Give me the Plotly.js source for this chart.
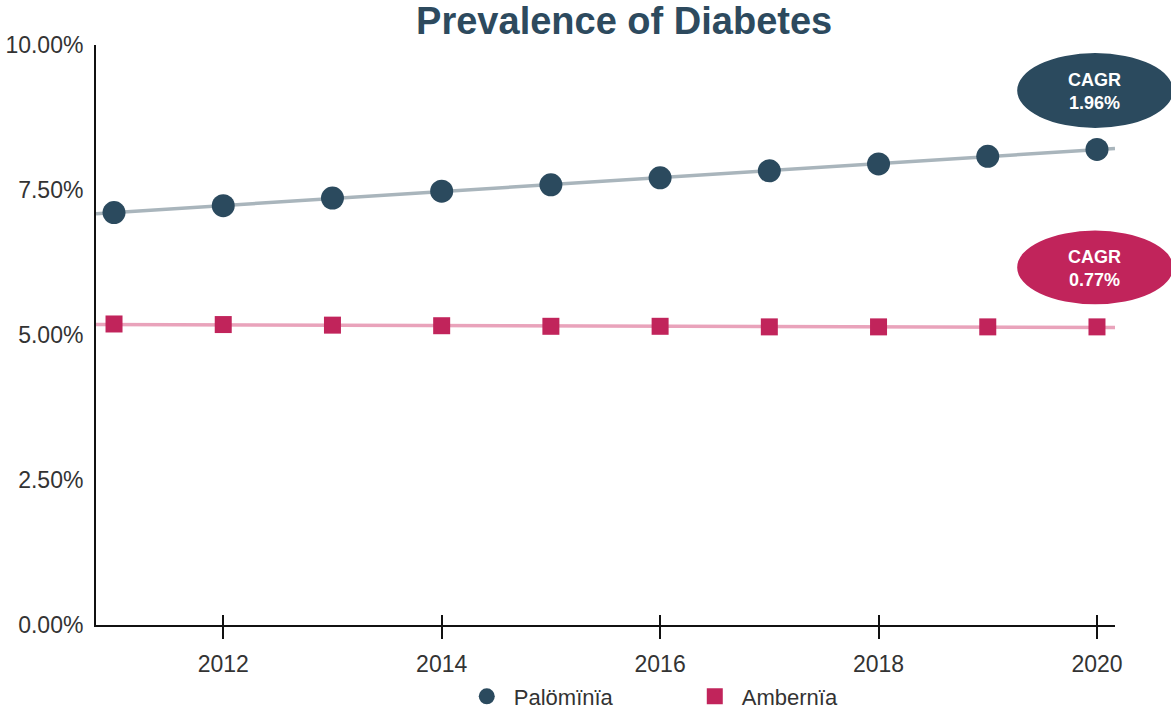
<!DOCTYPE html>
<html>
<head>
<meta charset="utf-8">
<script src="https://cdn.plot.ly/plotly-3.0.1.min.js"></script>
<style>
  html, body { margin: 0; padding: 0; background: #ffffff; }
  #chart { width: 1171px; height: 710px; }
</style>
</head>
<body>
<div id="chart"></div>
<script>
// Diabetes prevalence by year, two regions
const years = [2011, 2012, 2013, 2014, 2015, 2016, 2017, 2018, 2019, 2020];
const palominia = [0.0711, 0.0723, 0.0736, 0.0748, 0.0759, 0.0771, 0.0783, 0.0795, 0.0808, 0.0820];
const ambernia  = [0.0519, 0.0518, 0.0517, 0.0516, 0.0515, 0.0515, 0.0514, 0.0514, 0.0514, 0.0514];
const seriesNames = ['Palömïnïa', 'Ambernïa'];
const cagrLabels = ['1.96%', '0.77%'];
const xTicks = [2012, 2014, 2016, 2018, 2020];
const yTicks = [0, 0.025, 0.05, 0.075, 0.10];

const navy = '#2b4a5e';
const crimson = '#c1245b';
const FONT = '"Liberation Sans", Arial, Helvetica, sans-serif';
const xRange = [2010.835, 2020.165];

// least-squares trend line across the full axis range
function trend(xs, ys, range) {
  const n = xs.length;
  const mx = xs.reduce((a, b) => a + b, 0) / n;
  const my = ys.reduce((a, b) => a + b, 0) / n;
  let sxy = 0, sxx = 0;
  for (let i = 0; i < n; i++) { sxy += (xs[i] - mx) * (ys[i] - my); sxx += (xs[i] - mx) ** 2; }
  const b = sxy / sxx, a = my - b * mx;
  return { x: range.slice(), y: range.map(v => a + b * v) };
}

const tP = trend(years, palominia, xRange);
const tA = trend(years, ambernia, xRange);

const traces = [
  { x: tP.x, y: tP.y, mode: 'lines', line: { color: '#a9b5bc', width: 3.5 }, showlegend: false, hoverinfo: 'skip' },
  { x: tA.x, y: tA.y, mode: 'lines', line: { color: '#e9a3bb', width: 3.5 }, showlegend: false, hoverinfo: 'skip' },
  { x: years, y: palominia, name: seriesNames[0], mode: 'markers',
    marker: { symbol: 'circle', size: 23, color: navy } },
  { x: years, y: ambernia, name: seriesNames[1], mode: 'markers',
    marker: { symbol: 'square', size: 17, color: crimson } },
  // invisible trace carrying the inward half of the x ticks
  { x: years, y: palominia, xaxis: 'x2', mode: 'markers', marker: { opacity: 0 }, showlegend: false, hoverinfo: 'skip' }
];

const shapes = [
  { type: 'circle', xref: 'paper', yref: 'paper', x0: 0.904, x1: 1.057, y0: 0.857, y1: 0.986,
    fillcolor: navy, line: { width: 0 }, layer: 'below' },
  { type: 'circle', xref: 'paper', yref: 'paper', x0: 0.904, x1: 1.057, y0: 0.553, y1: 0.680,
    fillcolor: crimson, line: { width: 0 }, layer: 'below' }
];

const annotations = [
  { xref: 'paper', yref: 'paper', x: 0.980, y: 0.920, xanchor: 'center', yanchor: 'middle', showarrow: false,
    text: '<b>CAGR</b><br><b>' + cagrLabels[0] + '</b>',
    font: { family: FONT, size: 18, color: '#ffffff' }, align: 'center' },
  { xref: 'paper', yref: 'paper', x: 0.980, y: 0.614, xanchor: 'center', yanchor: 'middle', showarrow: false,
    text: '<b>CAGR</b><br><b>' + cagrLabels[1] + '</b>',
    font: { family: FONT, size: 18, color: '#ffffff' }, align: 'center' }
];

const layout = {
  width: 1171, height: 710,
  paper_bgcolor: '#ffffff', plot_bgcolor: 'rgba(0,0,0,0)',
  margin: { l: 96, r: 56, t: 45, b: 85 },
  font: { family: FONT, color: '#333333' },
  title: {
    text: '<b>Prevalence of Diabetes</b>',
    font: { family: FONT, size: 38, color: '#2d4a5e' },
    x: 0.533, xanchor: 'center', xref: 'container',
    y: 0.971, yanchor: 'middle', yref: 'container'
  },
  xaxis: {
    range: xRange, tickvals: xTicks, ticktext: xTicks.map(String),
    showgrid: false, zeroline: false,
    showline: true, linecolor: '#111111', linewidth: 2,
    ticks: 'outside', ticklen: 12, tickwidth: 2, tickcolor: '#111111',
    ticklabelstandoff: 5,
    tickfont: { family: FONT, size: 23, color: '#333333' }
  },
  xaxis2: {
    overlaying: 'x', matches: 'x', anchor: 'y', side: 'bottom',
    tickvals: xTicks, showticklabels: false, showgrid: false, zeroline: false,
    ticks: 'inside', ticklen: 10, tickwidth: 2, tickcolor: '#111111', showline: false
  },
  yaxis: {
    range: [0, 0.10], tickvals: yTicks, tickformat: '.2%',
    showgrid: false, zeroline: false,
    showline: true, linecolor: '#111111', linewidth: 2,
    ticks: '', ticklabelstandoff: 6,
    tickfont: { family: FONT, size: 23, color: '#333333' }
  },
  legend: {
    orientation: 'h', x: 0.357, xanchor: 'left', xref: 'paper',
    y: 0.019, yanchor: 'middle', yref: 'container',
    itemwidth: 44, font: { family: FONT, size: 22, color: '#333333' },
    entrywidth: 169, entrywidthmode: 'pixels'
  },
  shapes: shapes,
  annotations: annotations,
  showlegend: true
};

Plotly.newPlot('chart', traces, layout, { displayModeBar: false, staticPlot: true });
</script>
</body>
</html>
